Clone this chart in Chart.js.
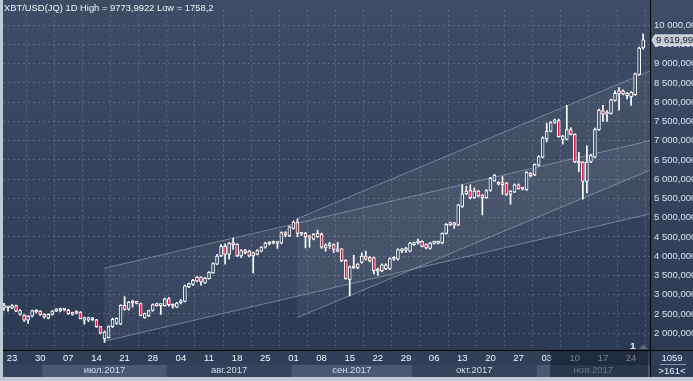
<!DOCTYPE html>
<html><head><meta charset="utf-8">
<script src="https://cdn.jsdelivr.net/npm/chart.js@4.4.1/dist/chart.umd.min.js"></script>
<style>
html,body{margin:0;padding:0;background:#c1c9d5;overflow:hidden;}
#wrap{position:relative;width:693px;height:381px;}
canvas{display:block;}
</style></head><body>
<div id="wrap"><canvas id="c" width="693" height="381"></canvas></div>
<script>
// Daily candles 21 Jun 2017 (index 0) .. 27 Nov 2017 (index 159)
const openP = [2658,2660,2658,2717,2489,2472,2338,2439,2590,2573,
2489,2388,2489,2573,2590,2600,2598,2489,2530,2548,
2338,2338,2350,2346,2169,1858,1883,2169,2253,2237,
2725,2624,2784,2809,2767,2405,2447,2590,2767,2717,
2717,2893,2742,2674,2784,2826,3205,3264,3348,3457,
3306,3415,3567,3794,4005,4257,4047,4342,4316,4005,
4148,4131,4005,4047,4131,4232,4316,4342,4330,4342,
4611,4527,4720,4889,4570,4594,4527,4443,4510,4569,
4215,4274,4300,4190,4190,3895,3390,3727,3710,3836,
4005,3963,3963,3668,3626,3668,3668,3921,3921,4140,
4156,4131,4300,4342,4384,4300,4199,4333,4340,4342,
4594,4822,4864,4805,5293,5621,5706,5520,5689,5588,
5520,5706,5960,5900,5880,5900,5605,5672,5857,5773,
5731,6152,6110,6363,6573,7053,7247,7474,7525,7036,
7036,7289,7163,6464,6447,5942,6447,6573,7289,7777,
7693,7710,8047,8215,8299,8173,8147,8198,8720,9410];
const highP = [2775,2700,2740,2730,2615,2480,2460,2600,2610,2590,
2500,2500,2590,2640,2650,2640,2620,2550,2580,2560,
2420,2420,2410,2360,2180,2060,2190,2390,2400,2740,
2952,2830,2860,2830,2780,2520,2600,2760,2780,2760,
2910,2930,2760,2800,2870,3250,3300,3400,3480,3470,
3450,3600,3830,4050,4300,4320,4360,4468,4330,4170,
4180,4160,4110,4170,4250,4370,4380,4390,4380,4630,
4640,4780,4920,4973,4620,4620,4540,4590,4680,4600,
4320,4360,4320,4358,4200,3910,3750,4022,3810,4089,
4131,3990,3980,3690,3800,3800,3960,3990,4190,4200,
4230,4360,4370,4443,4400,4320,4360,4380,4390,4610,
4850,4889,4880,5350,5857,5815,5857,5773,5710,5600,
5730,6050,6130,5930,6068,5920,5710,5880,5880,5790,
6200,6170,6400,6610,7100,7457,7500,7560,7560,7140,
7920,7340,7180,6700,6460,6868,6640,7331,7820,7920,
7780,8080,8299,8383,8320,8250,8280,8760,9430,9774];
const lowP = [2590,2570,2640,2560,2465,2304,2254,2420,2520,2460,
2390,2370,2470,2560,2550,2580,2490,2470,2500,2370,
2237,2300,2320,2150,1980,1758,1870,2150,2230,2220,
2600,2600,2675,2760,2450,2390,2430,2570,2700,2489,
2700,2700,2650,2660,2760,2810,3180,3240,3330,3250,
3290,3400,3550,3780,3990,3794,3920,4173,3990,3960,
4060,3980,3567,4030,4110,4210,4290,4320,4199,4320,
4500,4510,4700,4510,4540,4215,4232,4420,4490,4200,
4130,4200,4089,4110,3860,3400,2969,3680,3668,3820,
3900,3850,3542,3500,3600,3650,3650,3890,3900,4089,
4100,4110,4280,4320,4240,4190,4180,4310,4320,4320,
4570,4800,4720,4790,5270,5600,5490,5500,5540,5074,
5500,5690,5940,5850,5605,5580,5352,5650,5740,5720,
5710,6060,6090,6340,6550,6969,7230,7450,7090,6910,
7020,7150,6430,6194,5479,5647,6430,6550,7270,7500,
7500,7690,8030,7794,8190,8089,7920,8180,8700,9380];
const closeP = [2725,2680,2717,2573,2590,2338,2447,2590,2550,2489,
2422,2489,2573,2615,2632,2620,2506,2531,2520,2380,
2405,2405,2400,2169,2001,2026,2169,2363,2388,2725,
2615,2809,2826,2776,2464,2506,2590,2742,2717,2742,
2893,2742,2700,2784,2843,3230,3289,3373,3457,3331,
3432,3584,3811,4005,4257,4047,4342,4300,4005,4148,
4090,4005,4089,4148,4232,4342,4358,4367,4352,4611,
4552,4763,4889,4594,4594,4510,4468,4569,4594,4232,
4290,4330,4173,4131,3879,3415,3727,3700,3794,4005,
3921,3879,3626,3609,3777,3777,3937,3963,4173,4180,
4199,4342,4342,4384,4257,4215,4342,4358,4360,4594,
4830,4864,4805,5335,5621,5689,5520,5689,5563,5520,
5706,6026,6110,5870,5860,5605,5689,5857,5757,5740,
6177,6093,6388,6590,7078,7247,7474,7541,7104,7121,
7289,7163,6447,6422,5942,6447,6615,7289,7794,7693,
7743,8063,8232,8299,8215,8232,8257,8737,9410,9620];

const tickDays   = [2,9,16,23,30,37,44,51,58,65,72,79,86,93,100,107,114,121,128,135,142,149,156];
const tickLabels = ['23','30','07','14','21','28','04','11','18','25','01','08','15','22','29','06','13','20','27','03','10','17','24'];
const monthNames = ['июл.2017','авг.2017','сен.2017','окт.2017','ноя.2017'];
const monthStart = [10,41,72,102,133];
const monthEnd   = [40,71,101,132,162];
const yTicks = [2000,2500,3000,3500,4000,4500,5000,5500,6000,6500,7000,7500,8000,8500,9000,9500,10000];

const chanAx = [24.9,160.7], chanAUpper = [3685,7000], chanALower = [1790,5100];
const chanBx = [72.9,160.7], chanBUpper = [4973,8813], chanBLower = [2404,6236];

const titleText = 'XBT/USD(JQ) 1D High = 9773,9922 Low = 1758,2';
const lastPriceText = '9 619,99';
const cornerTop = '1059', cornerBottom = '>161<';

const X_MIN = -0.25, X_MAX = 160.7;
const FONT = 'Liberation Sans, Arial, sans-serif';

function fmt(v){
  const s = v.toFixed(3).split('.');
  return s[0].replace(/\B(?=(\d{3})+(?!\d))/g,' ') + ',' + s[1];
}
const monthCenters = monthStart.map((s,i)=>((Math.max(s-0.5,X_MIN)+Math.min(monthEnd[i]+0.5,X_MAX))/2));

const bodies = openP.map((o,i)=>({x:i, y:[Math.min(o,closeP[i]), Math.max(o,closeP[i])]}));
const wicks = lowP.map((l,i)=>({x:i, y:[l, highP[i]]}));
const bodyColors = openP.map((o,i)=> closeP[i] >= o ? '#37455f' : '#dc1640');

const line = (xs, ys) => xs.map((x,i)=>({x:x, y:ys[i]}));
const chanStyle = {type:'line', borderColor:'rgba(190,202,222,0.45)', borderWidth:1, pointRadius:0, order:3, backgroundColor:'rgba(255,255,255,0.055)'};

const bgPlugin = {
  id:'bg',
  beforeDraw(chart){
    const ctx = chart.ctx, ca = chart.chartArea, xs = chart.scales.x;
    ctx.save();
    const g = ctx.createLinearGradient(0,0,0,350);
    g.addColorStop(0,'#3e4c66'); g.addColorStop(1,'#2d3a54');
    ctx.fillStyle = g; ctx.fillRect(3,0,690,ca.bottom);
    ctx.fillStyle = '#303e58'; ctx.fillRect(3,ca.bottom,690,377-ca.bottom);
    monthStart.forEach((s,i)=>{
      const x1 = xs.getPixelForValue(Math.max(s-0.5,X_MIN));
      const x2 = xs.getPixelForValue(Math.min(monthEnd[i]+0.5,X_MAX));
      ctx.fillStyle = (i%2===0) ? '#4a5873' : '#35435d';
      ctx.fillRect(x1, 365, x2-x1, 12);
    });
    ctx.fillStyle = '#35435d';
    ctx.fillRect(3,365,xs.getPixelForValue(monthStart[0]-0.5)-3,12);
    ctx.restore();
  },
  afterDraw(chart){
    const ctx = chart.ctx, ca = chart.chartArea, ys = chart.scales.y;
    ctx.save();
    ctx.fillStyle = 'rgba(20,28,46,0.55)';
    ctx.fillRect(550, ca.bottom+1, ca.right-2-550, 377-ca.bottom-1);
    ctx.fillStyle = '#2f3c57';
    ctx.fillRect(ca.right, ca.bottom, 693-ca.right, 377-ca.bottom);
    ctx.strokeStyle = '#000'; ctx.lineWidth = 1;
    ctx.beginPath();
    ctx.moveTo(3, ca.bottom+0.5); ctx.lineTo(693, ca.bottom+0.5);
    ctx.moveTo(ca.right+0.5, 0); ctx.lineTo(ca.right+0.5, 377);
    ctx.stroke();
    ctx.fillStyle = '#e8eef8'; ctx.font = '9.5px ' + FONT; ctx.textAlign='center'; ctx.textBaseline='middle';
    ctx.fillText(cornerTop, 672, 358);
    ctx.fillText(cornerBottom, 672, 371);
    ctx.strokeStyle = '#8894a8';
    ctx.beginPath(); ctx.moveTo(660,364.5); ctx.lineTo(686,364.5); ctx.stroke();
    ctx.fillStyle = '#f2f4f8'; ctx.font = 'bold 9.5px ' + FONT;
    ctx.fillText('1', 633, 346);
    ctx.fillStyle = '#5d6a80';
    ctx.beginPath(); ctx.moveTo(639,349); ctx.lineTo(648,349); ctx.lineTo(643.5,344.5); ctx.closePath(); ctx.fill();
    ctx.fillStyle = '#eef2f8'; ctx.font = '9.4px ' + FONT; ctx.textAlign='left';
    ctx.fillText(titleText, 4, 8);
    const py = ys.getPixelForValue(closeP[closeP.length-1]);
    ctx.fillStyle = '#c4c9d2';
    ctx.strokeStyle = '#e6e9ee';
    ctx.beginPath();
    ctx.moveTo(652, py); ctx.lineTo(655, py-5); ctx.lineTo(694, py-5); ctx.lineTo(694, py+5.5); ctx.lineTo(655, py+5.5); ctx.closePath();
    ctx.fill(); ctx.stroke();
    ctx.fillStyle = '#132038'; ctx.font = '9.5px ' + FONT;
    ctx.fillText(lastPriceText, 656, py+0.5);
    ctx.restore();
  }
};

new Chart(document.getElementById('c'), {
  type:'bar',
  data:{
    datasets:[
      {label:'body', data:bodies, backgroundColor:bodyColors, borderColor:'#ffffff', borderWidth:1, borderSkipped:false,
       barThickness:3, minBarLength:2, grouped:false, order:0},
      {label:'wick', data:wicks, backgroundColor:'#ffffff', borderWidth:0, barThickness:1, grouped:false, order:1},
      Object.assign({label:'chanA up', data:line(chanAx,chanAUpper), fill:'+1'}, chanStyle),
      Object.assign({label:'chanA low', data:line(chanAx,chanALower), fill:false}, chanStyle),
      Object.assign({label:'chanB up', data:line(chanBx,chanBUpper), fill:'+1'}, chanStyle),
      Object.assign({label:'chanB low', data:line(chanBx,chanBLower), fill:false}, chanStyle)
    ]
  },
  options:{
    responsive:false, animation:false, devicePixelRatio:1,
    layout:{padding:{left:3,top:0,right:0,bottom:4}},
    plugins:{legend:{display:false}, tooltip:{enabled:false}, title:{display:false}},
    scales:{
      x:{type:'linear', min:X_MIN, max:X_MAX, offset:false, position:'bottom', weight:0,
        afterBuildTicks:s=>{ s.ticks = tickDays.map(v=>({value:v})); },
        afterFit:s=>{ s.height = 14; },
        ticks:{autoSkip:false, maxRotation:0, minRotation:0, padding:3, color:'#f2f5fa', font:{family:FONT,size:9.5},
          callback:v=>{ const k = tickDays.indexOf(v); return k<0 ? '' : tickLabels[k]; }},
        grid:{color:'rgba(135,150,178,0.42)', drawTicks:false, lineWidth:1},
        border:{display:true, color:'#000', width:1, dash:[2,3]}
      },
      xm:{type:'linear', min:X_MIN, max:X_MAX, offset:false, position:'bottom', weight:1,
        afterBuildTicks:s=>{ s.ticks = monthCenters.map(v=>({value:v})); },
        afterFit:s=>{ s.height = 13; },
        ticks:{autoSkip:false, maxRotation:0, minRotation:0, padding:1, color:'#d2dbea', font:{family:FONT,size:9.5},
          callback:v=>{ const k = monthCenters.indexOf(v); return k<0 ? '' : monthNames[k]; }},
        grid:{display:false, drawTicks:false}, border:{display:false}
      },
      y:{type:'linear', position:'right', min:1563, max:10404,
        afterBuildTicks:s=>{ s.ticks = yTicks.map(v=>({value:v})); },
        afterFit:s=>{ s.width = 43; },
        ticks:{padding:4, crossAlign:'near', color:'#d6e2f4', font:{family:FONT,size:9.5}, callback:v=>fmt(v)},
        grid:{color:'rgba(135,150,178,0.42)', drawTicks:false, lineWidth:1},
        border:{display:true, color:'#000', width:1, dash:[2,3]}
      }
    }
  },
  plugins:[bgPlugin]
});
</script>
</body></html>
